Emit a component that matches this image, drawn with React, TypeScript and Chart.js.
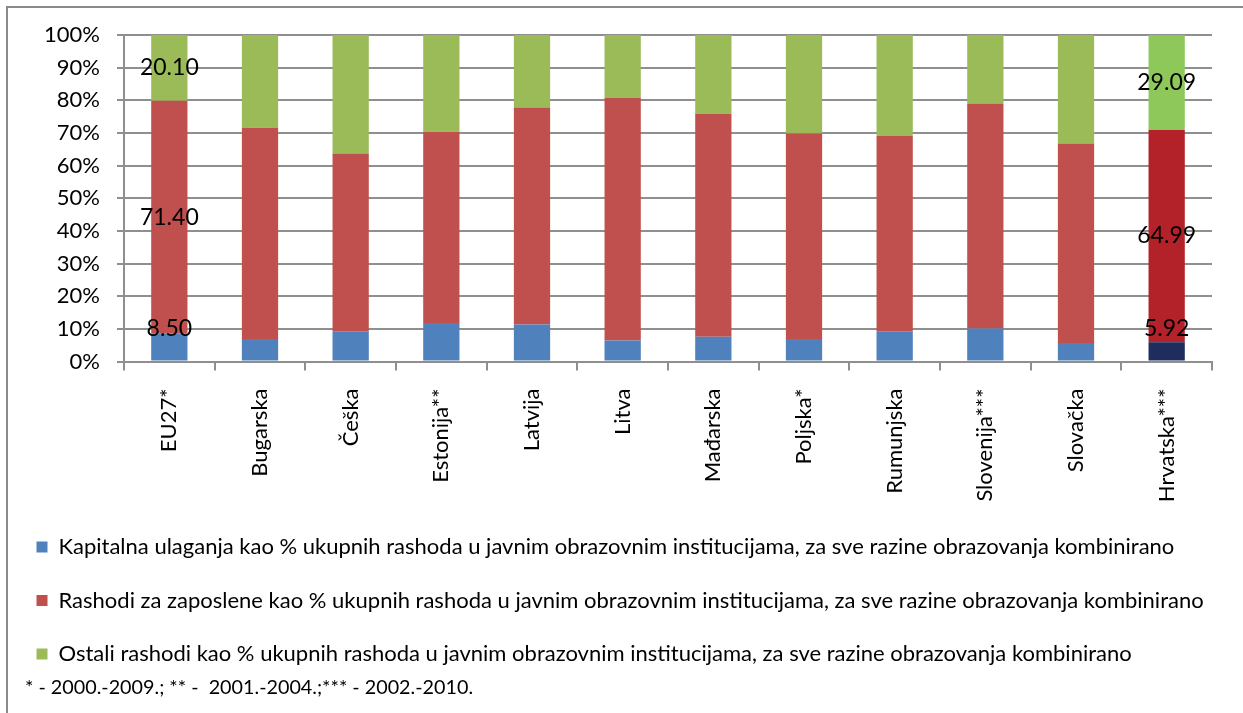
import React, { useEffect, useRef } from 'react';
import { Chart, registerables } from 'chart.js';

Chart.register(...registerables);

const categories = ['EU27*', 'Bugarska', 'Češka', 'Estonija**', 'Latvija', 'Litva', 'Mađarska', 'Poljska*', 'Rumunjska', 'Slovenija***', 'Slovačka', 'Hrvatska***'];
const capitalShare = [8.5, 6.9, 9.3, 11.8, 11.3, 6.4, 7.6, 6.9, 9.3, 10.1, 5.7, 5.92];
const staffShare = [71.4, 64.7, 54.4, 58.6, 66.5, 74.4, 68.3, 62.9, 59.8, 68.9, 61.1, 64.99];
const otherShare = [20.1, 28.4, 36.3, 29.6, 22.2, 19.2, 24.1, 30.2, 30.9, 21.0, 33.2, 29.09];
const seriesNames = [
  'Kapitalna ulaganja kao % ukupnih rashoda u javnim obrazovnim institucijama, za sve razine obrazovanja kombinirano',
  'Rashodi za zaposlene kao % ukupnih rashoda u javnim obrazovnim institucijama, za sve razine obrazovanja kombinirano',
  'Ostali rashodi kao % ukupnih rashoda u javnim obrazovnim institucijama, za sve razine obrazovanja kombinirano',
];
const labelledCategories = ['EU27*', 'Hrvatska***'];
const highlightedCategory = 'Hrvatska***';
const footnote = '* - 2000.-2009.; ** -  2001.-2004.;*** - 2002.-2010.';

const baseColors = ['#4F81BD', '#C0504D', '#9BBB59'];
const highlightColors = ['#1F2D5E', '#B22228', '#8FC85A'];
const FONT = 'Lato';
const GRID = '#8f8f8f';

const framePlugin = {
  id: 'frame',
  beforeDraw(chart: any) {
    const ctx = chart.ctx;
    ctx.save();
    ctx.strokeStyle = '#8a8a8a';
    ctx.lineWidth = 2;
    ctx.beginPath();
    ctx.moveTo(chart.width, 7);
    ctx.lineTo(7, 7);
    ctx.lineTo(7, chart.height);
    ctx.stroke();
    ctx.restore();
  },
};

const valueLabelPlugin = {
  id: 'valueLabels',
  afterDatasetsDraw(chart: any) {
    const ctx = chart.ctx;
    const yScale = chart.scales.y;
    ctx.save();
    ctx.font = `23px ${FONT}`;
    ctx.fillStyle = '#000';
    ctx.textAlign = 'center';
    ctx.textBaseline = 'middle';
    chart.data.datasets.forEach((ds: any, di: number) => {
      const meta = chart.getDatasetMeta(di);
      meta.data.forEach((bar: any, i: number) => {
        if (!labelledCategories.includes(categories[i])) return;
        const v = ds.data[i] as number;
        const cy = di === 0 ? yScale.getPixelForValue(10) : (bar.y + bar.base) / 2;
        ctx.fillText(v.toFixed(2), bar.x, cy);
      });
    });
    ctx.restore();
  },
};

const footnotePlugin = {
  id: 'footnote',
  afterDraw(chart: any) {
    const ctx = chart.ctx;
    ctx.save();
    ctx.font = `19.75px ${FONT}`;
    ctx.fillStyle = '#000';
    ctx.textAlign = 'left';
    ctx.textBaseline = 'middle';
    ctx.fillText(footnote, 25, chart.legend.bottom + 13);
    ctx.restore();
  },
};

function colorFor(series: number) {
  return (ctx: any) =>
    ctx.dataIndex !== undefined && categories[ctx.dataIndex] === highlightedCategory
      ? highlightColors[series]
      : baseColors[series];
}

export default function App() {
  const canvasRef = useRef<HTMLCanvasElement | null>(null);

  useEffect(() => {
    document.body.style.margin = '0';
    const canvas = canvasRef.current;
    if (!canvas) return;
    const chart = new Chart(canvas, {
      type: 'bar',
      data: {
        labels: categories,
        datasets: [
          { label: seriesNames[0], data: capitalShare, backgroundColor: colorFor(0) },
          { label: seriesNames[1], data: staffShare, backgroundColor: colorFor(1) },
          { label: seriesNames[2], data: otherShare, backgroundColor: colorFor(2) },
        ],
      },
      options: {
        responsive: true,
        maintainAspectRatio: false,
        animation: false,
        datasets: { bar: { categoryPercentage: 1, barPercentage: 0.4 } },
        layout: { padding: { top: 35, left: 5, right: 31, bottom: 38 } },
        plugins: {
          tooltip: { enabled: false },
          title: { display: false },
          legend: {
            position: 'bottom',
            align: 'start',
            labels: {
              boxWidth: 11,
              boxHeight: 11,
              padding: 31.5,
              color: '#000',
              font: { family: FONT, size: 22 },
            },
          },
        },
        scales: {
          x: {
            stacked: true,
            grid: { drawOnChartArea: false, drawTicks: true, tickLength: 9, color: GRID, lineWidth: 2 },
            border: { display: true, color: GRID, width: 2 },
            ticks: {
              minRotation: 90,
              maxRotation: 90,
              autoSkip: false,
              padding: 18,
              color: '#000',
              font: { family: FONT, size: 22 },
            },
            afterFit(scale: any) {
              scale.height = 143;
            },
          },
          y: {
            stacked: true,
            min: 0,
            max: 100,
            grid: { color: GRID, lineWidth: 2, tickLength: 7 },
            border: { display: true, color: GRID, width: 2 },
            ticks: {
              stepSize: 10,
              padding: 17,
              color: '#000',
              font: { family: FONT, size: 22 },
              callback: (v: any) => `${v}%`,
            },
            afterFit(scale: any) {
              scale.width = 119;
            },
          },
        },
      },
      plugins: [framePlugin, valueLabelPlugin, footnotePlugin],
    } as any);
    return () => chart.destroy();
  }, []);

  return (
    <div style={{ position: 'absolute', left: 0, top: 0, width: 1243, height: 713, background: '#fff' }}>
      <canvas ref={canvasRef} />
    </div>
  );
}
